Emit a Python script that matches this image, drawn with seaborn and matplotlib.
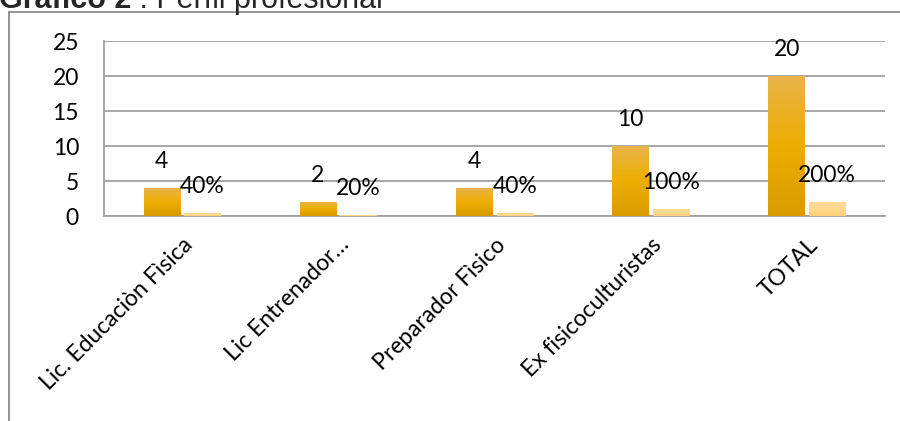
import numpy as np
import pandas as pd
import matplotlib
matplotlib.use("Agg")
import matplotlib.pyplot as plt
from matplotlib.colors import LinearSegmentedColormap
import seaborn as sns

# Profile categories, head counts and their share
categories = ["Lic. Educaciòn Fìsica", "Lic Entrenador…", "Preparador Fìsico",
              "Ex fisicoculturistas", "TOTAL"]
counts = [4, 2, 4, 10, 20]
shares = [0.40, 0.20, 0.40, 1.00, 2.00]
share_labels = ["40%", "20%", "40%", "100%", "200%"]
yticks = [0, 5, 10, 15, 20, 25]

df = pd.DataFrame({
    "Perfil": categories * 2,
    "Serie": ["Cantidad"] * len(categories) + ["Porcentaje"] * len(categories),
    "Valor": counts + shares,
})

sns.set_theme(style="white")
plt.rcParams["font.family"] = ["Lato", "DejaVu Sans"]

fig = plt.figure(figsize=(9, 4.21), dpi=100)
ax = fig.add_axes([104 / 900, 1 - 216 / 421, 781 / 900, 175 / 421])

sns.barplot(data=df, x="Perfil", y="Valor", hue="Serie", ax=ax,
            width=0.52, gap=0.1, palette=["#EDAE00", "#FFD68A"],
            legend=False, zorder=3)

ax.set_xlim(-0.5, 4.5)
ax.set_ylim(0, 25)
ax.set_yticks(yticks)
ax.set_xlabel("")
ax.set_ylabel("")

# Vertical gradients inside the bars
grad_dark = LinearSegmentedColormap.from_list(
    "dark", ["#D99B00", "#EDAE00", "#E8B44A"])
grad_light = LinearSegmentedColormap.from_list(
    "light", ["#FFCF75", "#FFD88F", "#FFDA96"])
n = len(categories)
bars = list(ax.patches)
for i, p in enumerate(bars):
    x0, y0 = p.get_x(), p.get_y()
    w, h = p.get_width(), p.get_height()
    if h <= 0:
        continue
    cmap = grad_dark if i < n else grad_light
    grad = np.linspace(0, 1, 256).reshape(-1, 1)
    im = ax.imshow(grad, cmap=cmap, origin="lower", aspect="auto",
                   extent=[x0, x0 + w, y0, y0 + h], zorder=3)
    im.set_clip_path(p)
    p.set_facecolor("none")
    p.set_edgecolor("none")
ax.set_xlim(-0.5, 4.5)
ax.set_ylim(0, 25)

# Value labels above each bar
for i, p in enumerate(bars):
    xc = p.get_x() + p.get_width() / 2
    top = p.get_height()
    txt = str(counts[i]) if i < n else share_labels[i - n]
    ax.annotate(txt, (xc, top), xytext=(0, 19), textcoords="offset points",
                ha="center", va="center", fontsize=16.5, color="black",
                zorder=5)

# Grid and frame
ax.yaxis.grid(True, color="#A0A0A0", linewidth=1.3, zorder=0)
ax.set_axisbelow(True)
for side in ["top", "right"]:
    ax.spines[side].set_visible(False)
ax.spines["left"].set_color("#A0A0A0")
ax.spines["left"].set_linewidth(1.3)
ax.spines["bottom"].set_color("#A0A0A0")
ax.spines["bottom"].set_linewidth(1.3)

ax.tick_params(axis="y", length=0, pad=18, labelsize=16.5, labelcolor="black")
ax.tick_params(axis="x", length=0, pad=13, labelsize=16.5, labelcolor="black")
for lab in ax.get_xticklabels():
    lab.set_rotation(45)
    lab.set_ha("right")
    lab.set_va("top")
    lab.set_rotation_mode("anchor")

# Outer chart frame
fig.add_artist(plt.Line2D([9 / 900, 9 / 900], [0, 1 - 12 / 421],
                          color="#8C8C8C", linewidth=1.3,
                          transform=fig.transFigure))
fig.add_artist(plt.Line2D([9 / 900, 1], [1 - 12 / 421, 1 - 12 / 421],
                          color="#8C8C8C", linewidth=1.3,
                          transform=fig.transFigure))

# Heading: bold lead followed by regular text
t1 = fig.text(-1 / 900, 1 - 8 / 421, "Gráfico 2", fontsize=22,
              fontweight="bold", family=["Liberation Sans", "DejaVu Sans"],
              va="baseline", ha="left")
fig.canvas.draw()
bb = t1.get_window_extent()
fig.text(bb.x1 / 900, 1 - 8 / 421, " : Perfil profesional", fontsize=22,
         family=["Liberation Sans", "DejaVu Sans"], va="baseline", ha="left")

fig.savefig("out.png", dpi=100)
